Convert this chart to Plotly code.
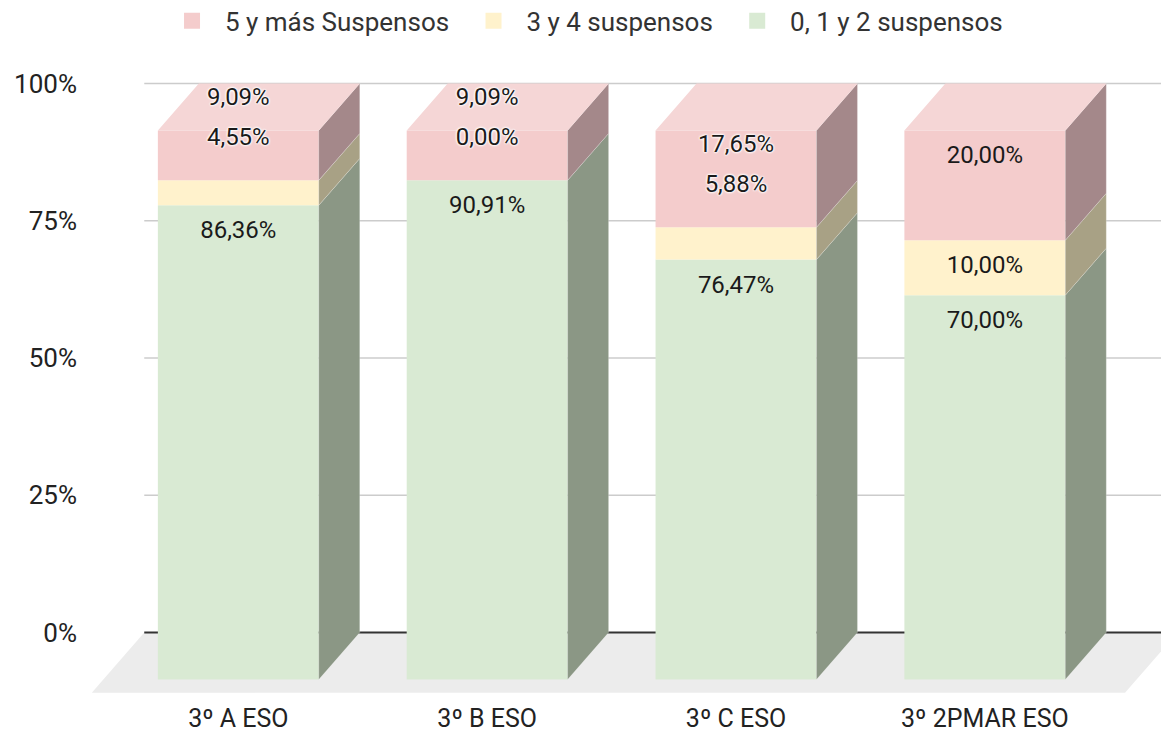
import plotly.graph_objects as go

categories = ["3º A ESO", "3º B ESO", "3º C ESO", "3º 2PMAR ESO"]
green_vals = [86.36, 90.91, 76.47, 70.00]   # 0, 1 y 2 suspensos
yellow_vals = [4.55, 0.00, 5.88, 10.00]     # 3 y 4 suspensos
red_vals = [9.09, 9.09, 17.65, 20.00]       # 5 y más Suspensos
series_names = ["0, 1 y 2 suspensos", "3 y 4 suspensos", "5 y más Suspensos"]
tick_vals = [0, 25, 50, 75, 100]
tick_text = ["0%", "25%", "50%", "75%", "100%"]

front_cols = ["#d9ead3", "#fff2cc", "#f4cccc"]
side_cols = ["#8b9785", "#a8a185", "#a4888a"]
top_col = "#f5d6d6"
floor_col = "#ececec"

# geometry (axis units)
BW = 0.6466          # front face width
DX = 0.1647          # depth in x
DY = 8.545           # depth in y
FONT = "Roboto"
NB = "\u00a0"

series = [green_vals, yellow_vals, red_vals]
n = len(categories)
xs = list(range(n))

fig = go.Figure()

# floor (shape below traces)
fl_front_y = -DY - 2.4
fl_left = xs[0] - BW / 2 - 0.265
fl_back_left = fl_left + DX * 60 / 47
fl_right = xs[-1] + BW / 2 + 0.24
fl_back_right = fl_right + DX * 60 / 47
fig.add_shape(type="path", xref="x", yref="y", layer="below",
              path=f"M{fl_left},{fl_front_y} L{fl_right},{fl_front_y} L{fl_back_right},0 L{fl_back_left},0 Z",
              fillcolor=floor_col, line=dict(width=0))

# gridlines
XR = 3.74
for t in tick_vals[1:]:
    fig.add_shape(type="line", xref="x", yref="y", layer="below",
                  x0=fl_back_left, x1=XR, y0=t, y1=t, line=dict(color="#cccccc", width=1.5))
fig.add_shape(type="line", xref="x", yref="y", layer="below",
              x0=fl_back_left, x1=XR, y0=0, y1=0, line=dict(color="#333333", width=2))

# side faces
for k, vals in enumerate(series):
    sx, sy = [], []
    for i in xs:
        base = sum(series[j][i] for j in range(k)) - DY
        v = vals[i]
        if v <= 0:
            continue
        xr = i + BW / 2
        sx += [xr, xr + DX, xr + DX, xr, xr, None]
        sy += [base, base + DY, base + v + DY, base + v, base, None]
    fig.add_trace(go.Scatter(x=sx, y=sy, fill="toself", fillcolor=side_cols[k], mode="lines",
                             line=dict(width=0.6, color="rgba(255,255,255,0.35)"),
                             showlegend=False, hoverinfo="skip"))

# top faces
tx, ty = [], []
for i in xs:
    top = sum(s[i] for s in series) - DY
    xl, xr = i - BW / 2, i + BW / 2
    tx += [xl, xr, xr + DX, xl + DX, xl, None]
    ty += [top, top, top + DY, top + DY, top, None]
fig.add_trace(go.Scatter(x=tx, y=ty, fill="toself", fillcolor=top_col, mode="lines",
                         line=dict(width=0), showlegend=False, hoverinfo="skip"))

# front faces
for k, vals in enumerate(series):
    bases = [sum(series[j][i] for j in range(k)) - DY for i in xs]
    fig.add_trace(go.Bar(x=xs, y=vals, base=bases, width=BW,
                         marker=dict(color=front_cols[k], line=dict(width=0)),
                         showlegend=False, hoverinfo="skip"))

# legend entries
for k in range(3):
    fig.add_trace(go.Scatter(x=[None], y=[None], mode="markers",
                             marker=dict(symbol="square", size=20, color=front_cols[k]),
                             name=NB * 2 + series_names[k] + NB * 3, legendrank=3 - k))

# labels
def fmt(v):
    return f"{v:.2f}".replace(".", ",") + "%"

INSIDE = 4.9
lab_x, lab_y, lab_t = [], [], []
halo_x, halo_y, halo_t = [], [], []
for i in xs:
    g, y, r = green_vals[i], yellow_vals[i], red_vals[i]
    lab_x.append(i); lab_y.append(g - DY - INSIDE); lab_t.append(fmt(g))
    if y < 6.5:
        yy = g + y - 1.0
        halo_x += [i, i]; halo_y += [yy, yy + 7.3]; halo_t += [fmt(y), fmt(r)]
    else:
        lab_x += [i, i]
        lab_y += [g + y - DY - INSIDE, g + y + r - DY - INSIDE]
        lab_t += [fmt(y), fmt(r)]

fig.add_trace(go.Scatter(x=lab_x, y=lab_y, text=lab_t, mode="text",
                         textfont=dict(family=FONT, size=24, color="#1a1a1a"),
                         showlegend=False, hoverinfo="skip", cliponaxis=False))
fig.add_trace(go.Scatter(x=halo_x, y=halo_y, text=halo_t, mode="text",
                         textfont=dict(family=FONT, size=24, color="#1a1a1a",
                                       shadow="0 0 2px white, 0 0 2px white, 0 0 3px white, 0 0 3px white"),
                         showlegend=False, hoverinfo="skip", cliponaxis=False))

fig.update_layout(
    width=1161, height=727,
    margin=dict(l=84, r=0, t=69.5, b=41.5, autoexpand=False),
    paper_bgcolor="white", plot_bgcolor="white",
    barmode="overlay",
    showlegend=True,
    legend=dict(orientation="h", x=0.0743, xanchor="left", y=1.093, yanchor="middle",
                font=dict(family=FONT, size=26, color="#333333"), itemsizing="trace",
                bgcolor="rgba(0,0,0,0)"),
    xaxis=dict(range=[-0.588, XR], tickvals=xs, ticktext=categories, showgrid=False,
               zeroline=False, showline=False, ticks="", ticklabelstandoff=8,
               tickfont=dict(family=FONT, size=25, color="#222222")),
    yaxis=dict(range=[-11, 101], tickvals=tick_vals, ticktext=tick_text, showgrid=False,
               zeroline=False, showline=False, ticks="", ticklabelstandoff=14,
               tickfont=dict(family=FONT, size=26, color="#222222")),
    hovermode=False,
)

fig.write_html("out.html")
